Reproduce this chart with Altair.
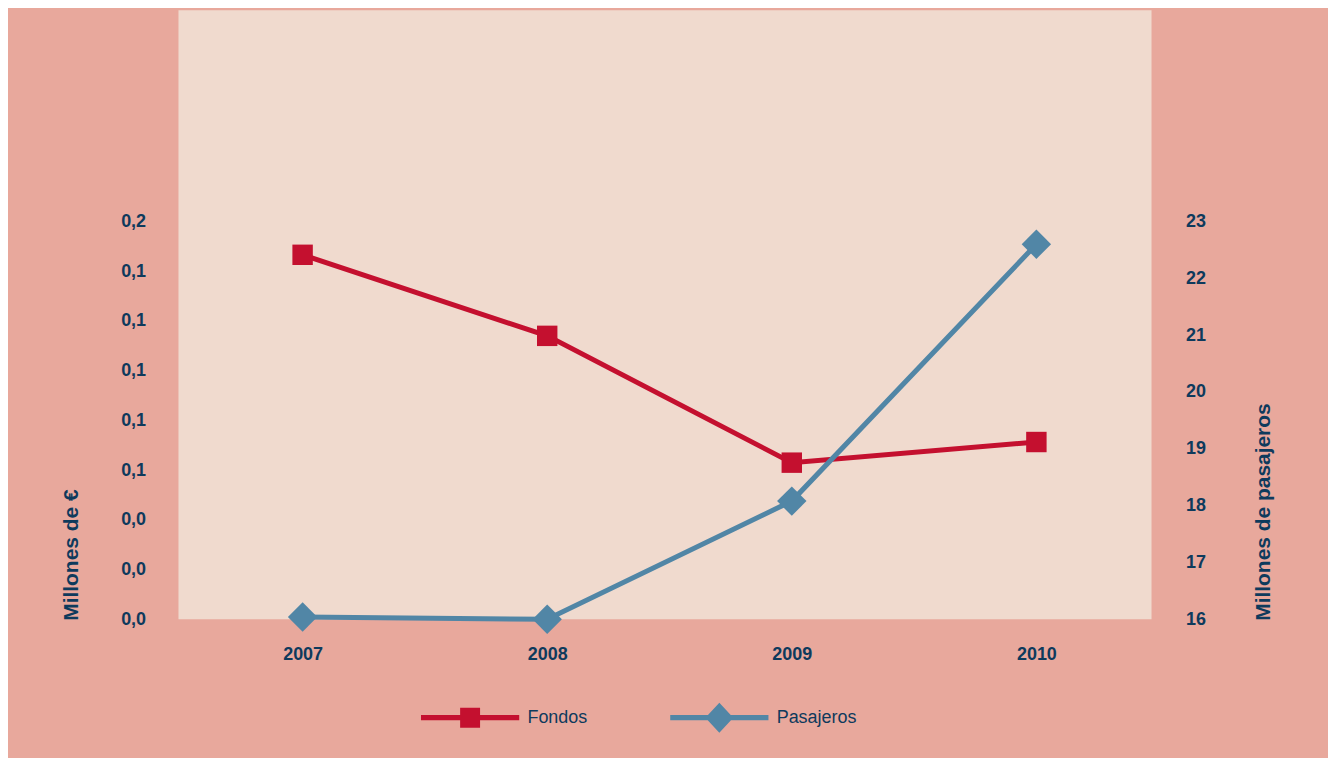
import altair as alt
import pandas as pd

# ---- data ----
years = [2007, 2008, 2009, 2010]
fondos = [0.1466, 0.1140, 0.0630, 0.0713]          # Millones de €
pasajeros = [16.04, 16.00, 18.08, 22.60]           # Millones de pasajeros
series = ["Fondos", "Pasajeros"]
left_ticks = [0, 0.02, 0.04, 0.06, 0.08, 0.10, 0.12, 0.14, 0.16]
right_ticks = [16, 17, 18, 19, 20, 21, 22, 23]

# ---- style ----
RED = "#C4102F"
BLUE = "#5186A6"
NAVY = "#0E3A5C"
BG = "#E8A89C"
PLOT_BG = "#F0DACE"
FONT = "Liberation Sans"

# custom legend glyphs: horizontal line with marker (same vertical extent for both)
LEG_FONDOS = ("M0,-0.305L0,0.305Z "
              "M-1,-0.053L1,-0.053L1,0.053L-1,0.053Z "
              "M-0.203,-0.203L0.203,-0.203L0.203,0.203L-0.203,0.203Z")
LEG_PASAJ = ("M0,-0.305L0,0.305Z "
             "M-1,-0.053L1,-0.053L1,0.053L-1,0.053Z "
             "M-0.284,0L0,-0.305L0.284,0L0,0.305Z")

df = pd.DataFrame({"year": years, "fondos": fondos, "pasajeros": pasajeros})
df_leg = pd.DataFrame({"serie": series})

x_enc = alt.X(
    "year:Q",
    scale=alt.Scale(domain=[2006.4925, 2010.4708], nice=False, zero=False),
    axis=alt.Axis(values=years, format="d", title=None, grid=False, domain=False,
                  ticks=False, labelPadding=26, labelFont=FONT, labelFontSize=18,
                  labelFontWeight="bold", labelColor=NAVY),
)

y_left = alt.Y(
    "fondos:Q",
    scale=alt.Scale(domain=[0, 0.245013], nice=False, zero=False),
    axis=alt.Axis(orient="left", values=left_ticks,
                  labelExpr="replace(format(datum.value, '.1f'), '.', ',')",
                  grid=False, domain=False, ticks=False, labelPadding=33,
                  labelFont=FONT, labelFontSize=18, labelFontWeight="bold",
                  labelColor=NAVY, title="Millones de €", titleFont=FONT,
                  titleFontSize=21, titleFontWeight="bold", titleColor=NAVY,
                  titleAngle=270, titleAlign="left", titleBaseline="middle",
                  titleX=-107, titleY=612),
)

y_right = alt.Y(
    "pasajeros:Q",
    scale=alt.Scale(domain=[16, 26.7193], nice=False, zero=False),
    axis=alt.Axis(orient="right", values=right_ticks, format="d",
                  grid=False, domain=False, ticks=False, labelPadding=34,
                  labelFont=FONT, labelFontSize=18, labelFontWeight="bold",
                  labelColor=NAVY, title="Millones de pasajeros", titleFont=FONT,
                  titleFontSize=21, titleFontWeight="bold", titleColor=NAVY,
                  titleAngle=270, titleAlign="left", titleBaseline="middle",
                  titleX=112, titleY=612),
)

base = alt.Chart(df)

left = alt.layer(
    base.mark_line(color=RED, strokeWidth=5).encode(x=x_enc, y=y_left),
    base.mark_point(shape="square", filled=True, color=RED, size=420, opacity=1)
        .encode(x=x_enc, y=y_left),
)

right = alt.layer(
    base.mark_line(color=BLUE, strokeWidth=5).encode(x=x_enc, y=y_right),
    base.mark_point(shape="diamond", filled=True, color=BLUE, size=870, opacity=1)
        .encode(x=x_enc, y=y_right),
)

leg_def = dict(title=None, orient="none", legendX=243, legendY=660,
               direction="horizontal", symbolSize=9702, symbolOpacity=1,
               symbolStrokeWidth=0, labelFont=FONT, labelFontSize=18,
               labelColor=NAVY, labelOffset=8, columnPadding=82, padding=0)

legend_layer = alt.Chart(df_leg).mark_point(filled=True, opacity=0).encode(
    color=alt.Color("serie:N", scale=alt.Scale(domain=series, range=[RED, BLUE]),
                    legend=alt.Legend(**leg_def)),
    shape=alt.Shape("serie:N", scale=alt.Scale(domain=series, range=[LEG_FONDOS, LEG_PASAJ]),
                    legend=alt.Legend(**leg_def)),
)

chart = alt.layer(left, right, legend_layer).resolve_scale(
    y="independent"
).properties(
    width=976,
    height=611,
    background=BG,
    padding={"left": 171, "top": 1, "right": 177, "bottom": 138},
    autosize=alt.AutoSizeParams(type="none"),
    view=alt.ViewBackground(fill=PLOT_BG, strokeWidth=0),
).configure_view(
    fill=PLOT_BG, strokeWidth=0
)

chart.save("out.html", embed_options={"renderer": "svg", "actions": False})
